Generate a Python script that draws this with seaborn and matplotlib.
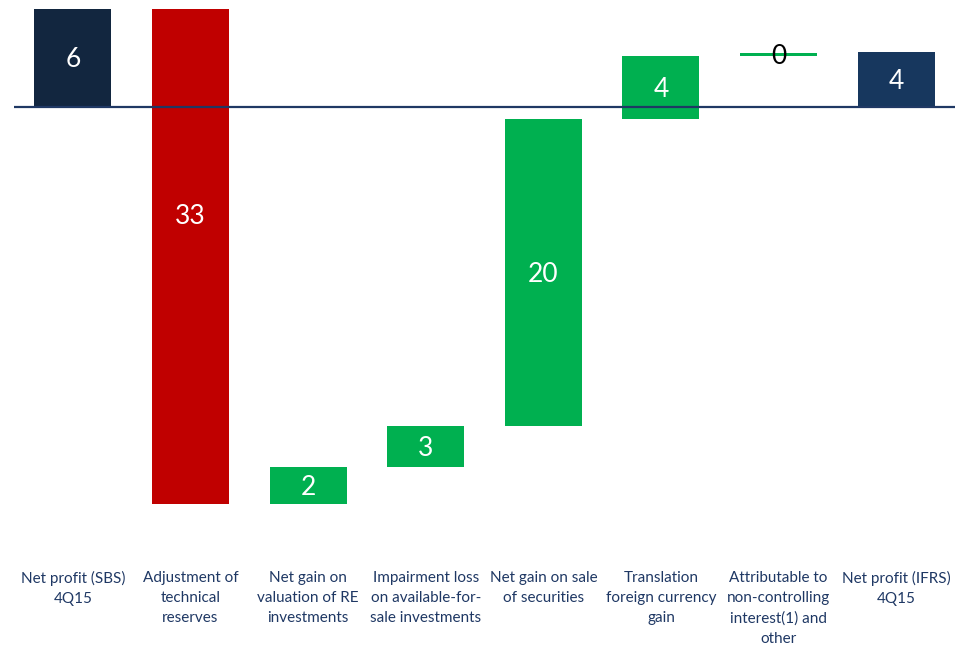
import numpy as np
import pandas as pd
import matplotlib
matplotlib.use("Agg")
import matplotlib.pyplot as plt
import seaborn as sns

categories = [
    "Net profit (SBS)\n4Q15",
    "Adjustment of\ntechnical\nreserves",
    "Net gain on\nvaluation of RE\ninvestments",
    "Impairment loss\non available-for-\nsale investments",
    "Net gain on sale\nof securities",
    "Translation\nforeign currency\ngain",
    "Attributable to\nnon-controlling\ninterest(1) and\nother",
    "Net profit (IFRS)\n4Q15",
]
changes = [6.38, -32.24, 2.41, 2.67, 20.0, 4.10, 0.2, 3.58]
is_total = [True, False, False, False, False, False, False, True]
value_labels = ["6", "33", "2", "3", "20", "4", "0", "4"]
bar_colors = ["#12263F", "#C00000", "#00B050", "#00B050", "#00B050",
              "#00B050", "#00B050", "#17375E"]

# waterfall bottoms
bottoms = []
running = 0.0
for c, tot in zip(changes, is_total):
    if tot:
        bottoms.append(0.0)
        running = c
    else:
        bottoms.append(running)
        running += c

df = pd.DataFrame({"cat": [f"c{i}" for i in range(len(categories))],
                   "change": changes})

sns.set_theme(style="white")
plt.rcParams["font.family"] = ["Lato", "DejaVu Sans"]

fig = plt.figure(figsize=(9.63, 6.45), dpi=100)
ax = fig.add_axes([14 / 963, 125 / 645, 941 / 963, 520 / 645])

sns.barplot(data=df, x="cat", y="change", bottom=bottoms, width=0.655,
            color="#00B050", ax=ax, linewidth=0, errorbar=None)
for p, col in zip(ax.patches, bar_colors):
    p.set_facecolor(col)
    p.set_edgecolor("none")

ax.axhline(0, color="#1F3864", lw=1.6, zorder=5)

label_shift = {1: 2.7}
for i, (b, c, lab) in enumerate(zip(bottoms, changes, value_labels)):
    y = b + c / 2 + label_shift.get(i, 0)
    if lab == "0":
        ax.text(i, b + c / 2 - 0.15, lab, ha="center", va="center", color="black",
                fontsize=19, zorder=6)
    else:
        ax.text(i, y - 0.12, lab, ha="center", va="center", color="white",
                fontsize=19, zorder=6)

for i, cat in enumerate(categories):
    ax.text(i, -0.098, cat, transform=ax.get_xaxis_transform(),
            ha="center", va="top", color="#1F3864", fontsize=11,
            linespacing=1.55)

ax.set_xlim(-0.5, 7.5)
ax.set_ylim(-(520 - 107) / 15.35, 107 / 15.35)
ax.set_xticks([])
ax.set_yticks([])
ax.set_xlabel("")
ax.set_ylabel("")
for s in ax.spines.values():
    s.set_visible(False)

fig.savefig("out.png", dpi=100)
